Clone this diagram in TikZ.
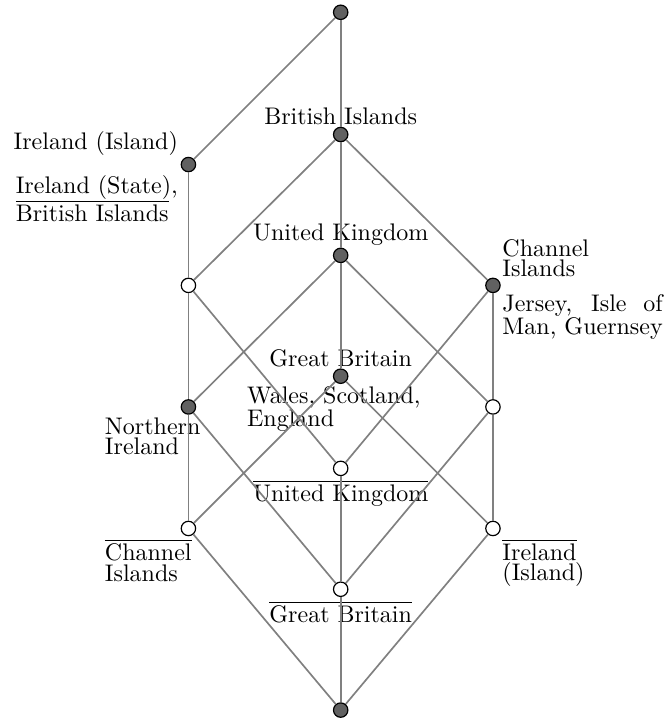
\documentclass[tikz,border=0pt]{standalone}
\usepackage{tikz}
\usetikzlibrary{positioning}
\tikzset{
    % concept styles
    concept/.style={circle, draw=black, line width=0.5pt, minimum size=6pt, inner sep=0pt},
    full concept/.style={concept, fill=black!62},
    empty concept/.style={concept, fill=white},
    % label and line styles
    lbl/.style={inner sep=0.5pt, align=left},
    link/.style={draw=black!50, line width=0.7pt},
}
\newcommand{\nott}[1]{$\overline{\mbox{#1}}$}

\begin{document}
\begin{tikzpicture}
    \useasboundingbox (-4.99,0.18) rectangle (4.80,-10.38);

    % concepts
    \node[full concept]  (top) at (0,0) {};
    \node[full concept]  (bi)  at (0,-1.79) {};
    \node[full concept]  (ii)  at (-2.23,-2.23) {};
    \node[full concept]  (uk)  at (0,-3.56) {};
    \node[empty concept] (c1)  at (-2.23,-4.0) {};
    \node[full concept]  (ci)  at (2.23,-4.0) {};
    \node[full concept]  (gb)  at (0,-5.33) {};
    \node[full concept]  (ni)  at (-2.23,-5.78) {};
    \node[empty concept] (c2)  at (2.23,-5.78) {};
    \node[empty concept] (nuk) at (0,-6.68) {};
    \node[empty concept] (nci) at (-2.23,-7.56) {};
    \node[empty concept] (nii) at (2.23,-7.56) {};
    \node[empty concept] (ngb) at (0,-8.45) {};
    \node[full concept]  (bot) at (0,-10.22) {};

    % attribute labels
    \node[lbl, above=0pt of bi] (biA) {British Islands};
    \node[lbl, anchor=south east, xshift=-3.7pt, yshift=3.25pt] (iiA) at (ii) {Ireland (Island)};
    \node[lbl, above=0pt of uk] (ukA) {United Kingdom};
    \node[lbl, anchor=south west, xshift=3.25pt, yshift=2.8pt] (ciA) at (ci) {Channel\\[-3.5pt]Islands};
    \node[lbl, above=0pt of gb] (gbA) {Great Britain};

    % object labels
    \node[lbl, anchor=north east, xshift=-3.7pt, yshift=-3.7pt] (iiO) at (ii) {Ireland (State),\\\nott{British Islands}};
    \node[lbl, anchor=north west, xshift=3.25pt, yshift=-3.25pt] (ciO) at (ci)
        {\makebox[66.8pt][s]{Jersey, Isle of}\\[-2.6pt]Man, Guernsey};
    \node[lbl, anchor=north west, xshift=-39.7pt, yshift=-3.7pt] (gbO) at (gb) {Wales, Scotland,\\[-2.3pt]England};
    \node[lbl, anchor=north west, xshift=-35.5pt, yshift=-3.7pt] (niO) at (ni) {Northern\\[-3.5pt]Ireland};
    \node[lbl, below=1pt of nuk] (nukO) {\nott{United Kingdom}};
    \node[lbl, anchor=north west, xshift=-35.5pt, yshift=-3.7pt] (nciO) at (nci) {\nott{Channel}\\[-3.5pt]Islands};
    \node[lbl, anchor=north west, xshift=3.25pt, yshift=-3.7pt] (niiO) at (nii) {\nott{Ireland}\\[-3.5pt](Island)};
    \node[lbl, below=1pt of ngb] (ngbO) {\nott{Great Britain}};

    % lines
    \foreach \a/\b in {top/bi, top/ii, ii/c1, bi/c1, bi/uk, bi/ci,
                       uk/ni, uk/gb, uk/c2, c1/ni, c1/nuk, ci/c2, ci/nuk,
                       gb/nci, gb/nii, ni/nci, ni/ngb, c2/nii, c2/ngb,
                       nuk/ngb, nci/bot, nii/bot, ngb/bot}
        \draw[link] (\a) -- (\b);
\end{tikzpicture}
\end{document}
